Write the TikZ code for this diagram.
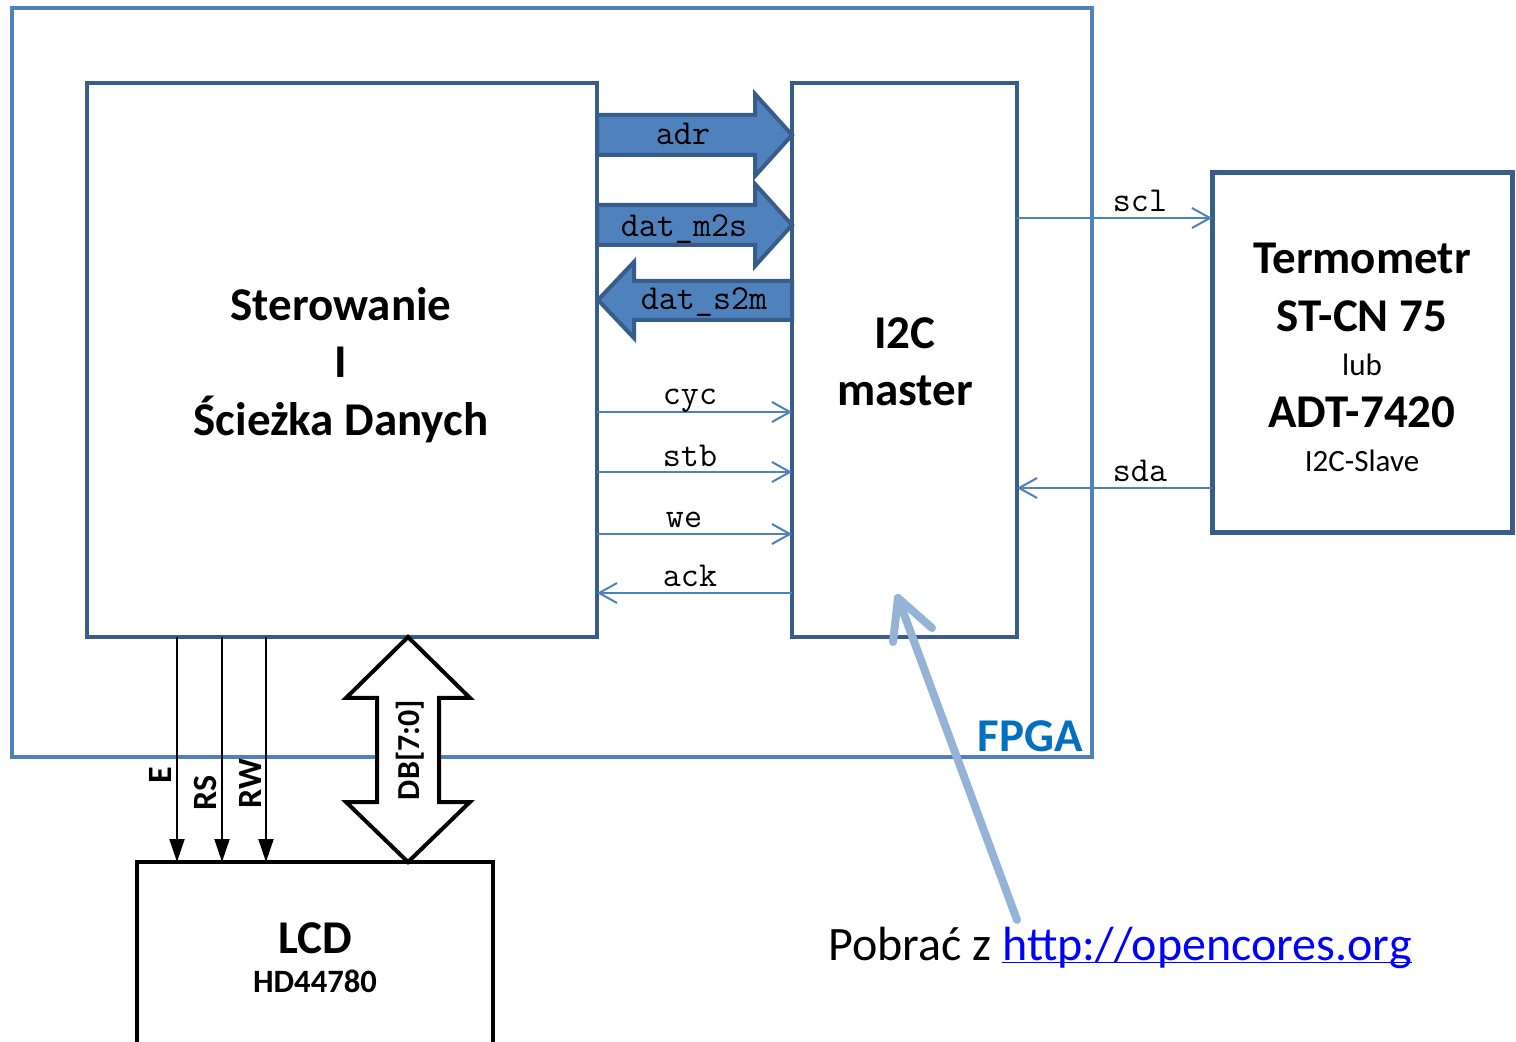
\documentclass[tikz,border=0pt]{standalone}
\usepackage{fontspec}
\setmainfont{Carlito}
\usetikzlibrary{arrows.meta}
\definecolor{midb}{HTML}{4F81BD}
\definecolor{darkb}{HTML}{385D8A}
\definecolor{fpgat}{HTML}{0070C0}
\definecolor{pointc}{HTML}{95B3D7}
\definecolor{linkc}{HTML}{0000FF}
\begin{document}
\begin{tikzpicture}[x=0.5pt,y=-0.5pt,
  box/.style={draw=darkb, line width=2pt, inner sep=0pt, outer sep=0pt},
  bigtext/.style={font=\bfseries\fontsize{23.5pt}{28.75pt}\selectfont, align=center},
  smalltext/.style={font=\fontsize{15.5pt}{18pt}\selectfont},
  sig/.style={font=\ttfamily\fontsize{17.5pt}{20pt}\selectfont, anchor=base, inner sep=0pt},
  sigarrow/.style={draw=midb, line width=1pt, -{Straight Barb[length=9pt,width=10pt]}},
  blockarr/.style={draw=darkb, fill=midb, line width=2pt, line join=miter},
  lcdarrow/.style={draw=black, line width=1pt, -{Triangle[length=11.5pt,width=7.5pt]}},
  pinlabel/.style={font=\bfseries\fontsize{17pt}{20pt}\selectfont, rotate=90, inner sep=0pt},
  pointer/.style={draw=pointc, line width=4pt, line cap=round, line join=round}
]
\useasboundingbox (0,0) rectangle (1516,1042);
\fill[white] (0,0) rectangle (1516,1042);

% FPGA outer box
\node[draw=midb, line width=2pt, inner sep=0pt, outer sep=0pt, minimum width=540pt, minimum height=374.5pt] (fpga) at (552,382.5) {};
\node[font=\bfseries\fontsize{23.5pt}{28pt}\selectfont, text=fpgat, inner sep=0pt] (fpgalbl) at (1030,736) {FPGA};

% main boxes
\node[box, minimum width=255pt, minimum height=277pt] (ster) at (342,360) {};
\node[bigtext, inner sep=0pt] (stertext) at (341,365) {Sterowanie\\I\\Ścieżka Danych};
\node[box, minimum width=112.5pt, minimum height=277pt] (i2c) at (904.5,360) {};
\node[bigtext, inner sep=0pt] (i2ctext) at (905,362) {I2C\\master};
\node[box, line width=2.5pt, minimum width=150pt, minimum height=180pt] (term) at (1362,353) {};
\node[bigtext, inner sep=0pt] (t1) at (1362,258) {Termometr};
\node[bigtext, inner sep=0pt] (t2) at (1362,316) {ST-CN 75};
\node[smalltext, inner sep=0pt] (t3) at (1362,365) {lub};
\node[bigtext, inner sep=0pt] (t4) at (1362,412) {ADT-7420};
\node[smalltext, inner sep=0pt] (t5) at (1362,461) {I2C-Slave};

% LCD
\node[draw=black, line width=2pt, inner sep=0pt, outer sep=0pt, minimum width=178pt, minimum height=94pt] (lcd) at (315,956) {};
\node[bigtext, inner sep=0pt] (lcd1) at (315,938) {LCD};
\node[font=\bfseries\fontsize{16.3pt}{19pt}\selectfont, inner sep=0pt] (lcd2) at (315,981) {HD44780};

% block arrows
\draw[blockarr] (597,115) -- (755,115) -- (755,94) -- (792,135) -- (755,176) -- (755,155) -- (597,155) -- cycle;
\node[sig] (adr) at (683,145) {adr};
\draw[blockarr] (597,205) -- (755,205) -- (755,184) -- (792,225) -- (755,266) -- (755,245) -- (597,245) -- cycle;
\node[sig] (m2s) at (684,237) {dat\_m2s};
\draw[blockarr] (792,281) -- (634,281) -- (634,262) -- (598,300) -- (634,338) -- (634,320) -- (792,320) -- cycle;
\node[sig] (s2m) at (704,310) {dat\_s2m};

% signal arrows
\draw[sigarrow] (ster.east |- 0,412) -- (i2c.west |- 0,412);
\node[sig] (cyc) at (690,405) {cyc};
\draw[sigarrow] (ster.east |- 0,472) -- (i2c.west |- 0,472);
\node[sig] (stb) at (690,467) {stb};
\draw[sigarrow] (ster.east |- 0,534) -- (i2c.west |- 0,534);
\node[sig] (we) at (684,528) {we};
\draw[sigarrow] (i2c.west |- 0,593) -- (ster.east |- 0,593);
\node[sig] (ack) at (690,587) {ack};
\draw[sigarrow] (i2c.east |- 0,218) -- (term.west |- 0,218);
\node[sig] (scl) at (1140,212) {scl};
\draw[sigarrow] (term.west |- 0,488) -- (i2c.east |- 0,488);
\node[sig] (sda) at (1140,482) {sda};

% LCD control lines
\draw[lcdarrow] (ster.south -| 177,0) -- (lcd.north -| 177,0);
\draw[lcdarrow] (ster.south -| 222,0) -- (lcd.north -| 222,0);
\draw[lcdarrow] (ster.south -| 266,0) -- (lcd.north -| 266,0);
\node[pinlabel] (le) at (160,775) {E};
\node[pinlabel] (lrs) at (205,793) {RS};
\node[pinlabel] (lrw) at (250,784) {RW};

% DB double arrow
\draw[draw=black, fill=white, line width=2pt, line join=miter]
  (408,637) -- (470,698) -- (439,698) -- (439,802) -- (470,802) -- (408,862)
  -- (346,802) -- (377,802) -- (377,698) -- (346,698) -- cycle;
\node[pinlabel, font=\bfseries\fontsize{16pt}{19pt}\selectfont] (db) at (410,750) {DB[7:0]};

% pointer
\node[anchor=base west, inner sep=0pt, font=\fontsize{24pt}{28pt}\selectfont] (pob) at (828,960)
  {Pobrać z \textcolor{linkc}{\underline{\smash{http://opencores.org}}}};
\coordinate (ptail) at (1017,920);
\coordinate (ptip) at (898,598);
\draw[pointer] (ptail) -- (ptip);
\draw[pointer] (893,642) -- (ptip) -- (932,628);
\end{tikzpicture}
\end{document}
